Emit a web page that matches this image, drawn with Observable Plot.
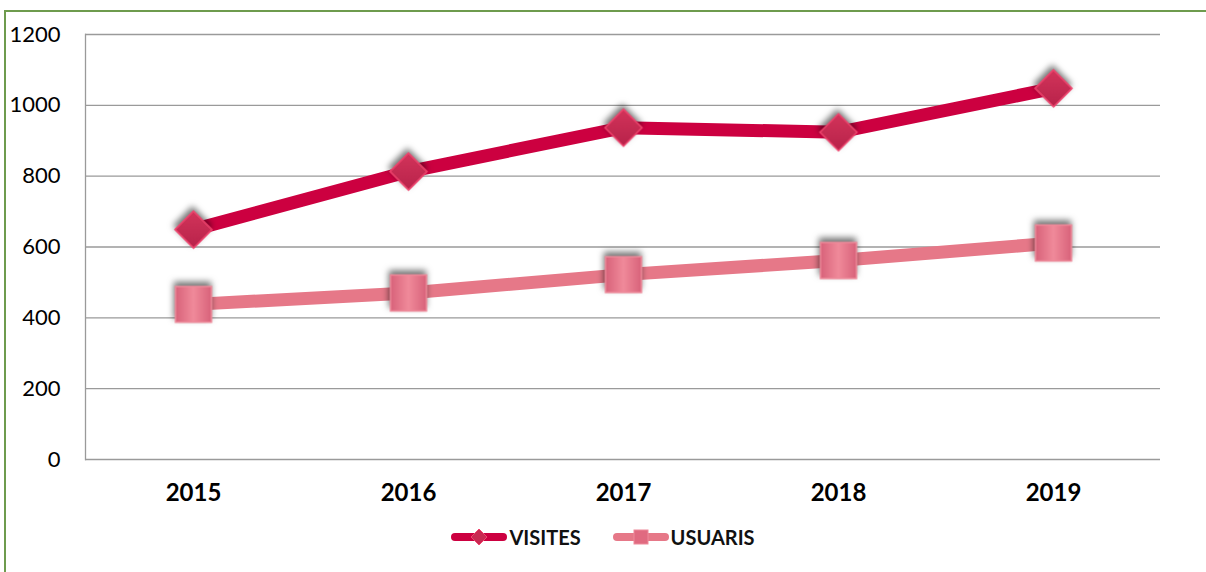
<!DOCTYPE html>
<html>
<head>
<meta charset="utf-8">
<script src="https://cdn.jsdelivr.net/npm/d3@7"></script>
<script src="https://cdn.jsdelivr.net/npm/@observablehq/plot@0.6"></script>
<style>
  html, body { margin: 0; padding: 0; background: #fff; width: 1206px; height: 572px; overflow: hidden; }
  #border { position: absolute; left: 4px; top: 10px; width: 1400px; height: 800px; border-left: 2px solid #6E9B4E; border-top: 2px solid #6E9B4E; }
  #chart { position: absolute; left: 0; top: 0; }
  .shadow { filter: drop-shadow(-1px -4px 3px rgba(0,0,0,0.55)); }
  #legend { position: absolute; left: 0; top: 515px; width: 1206px; height: 44px; display: flex; justify-content: center; align-items: center; font-family: Lato, "Open Sans", sans-serif; font-weight: bold; font-size: 20px; color: #111; }
  .item { display: flex; align-items: center; margin: 0 16px; }
  .item svg { margin-right: 2px; }
</style>
</head>
<body>
<div id="border"></div>
<div id="chart"></div>
<div id="legend"></div>
<script>
const years = ["2015", "2016", "2017", "2018", "2019"];
const visites = [649, 813, 937, 924, 1048];
const usuaris = [438, 470, 522, 562, 611];
const yTicks = [0, 200, 400, 600, 800, 1000, 1200];
const seriesNames = ["VISITES", "USUARIS"];
const seriesColors = ["#CC0040", "#E67888"];

const dataV = years.map((y, i) => ({year: y, value: visites[i]}));
const dataU = years.map((y, i) => ({year: y, value: usuaris[i]}));

const plot = Plot.plot({
  width: 1206,
  height: 515,
  marginLeft: 85,
  marginRight: 46,
  marginTop: 34,
  marginBottom: 56,
  style: {fontFamily: "Lato, 'Open Sans', sans-serif", color: "#000", background: "transparent"},
  x: {type: "point", domain: years, padding: 0.5, label: null},
  y: {domain: [0, 1200], ticks: yTicks, label: null},
  marks: [
    Plot.gridY(yTicks, {stroke: "#9a9a9a", strokeOpacity: 1, strokeWidth: 1.3}),
    Plot.frame({anchor: "left", stroke: "#9a9a9a", strokeWidth: 1.3}),
    Plot.axisY(yTicks, {tickSize: 0, tickPadding: 25, fontSize: 22, tickFormat: d => String(d), label: null}),
    Plot.axisX({tickSize: 0, tickPadding: 24, fontSize: 24, fontWeight: "bold", label: null}),
    Plot.line(dataU, {x: "year", y: "value", stroke: seriesColors[1], strokeWidth: 13}),
    Plot.line(dataV, {x: "year", y: "value", stroke: seriesColors[0], strokeWidth: 13}),
    Plot.dot(dataU, {x: "year", y: "value", symbol: "square", r: 20.3, fill: "url(#gradU)", stroke: "#EE8A9A", strokeWidth: 1.5, className: "shadow"}),
    Plot.dot(dataV, {x: "year", y: "value", symbol: "square", r: 14.8, rotate: 45, fill: "url(#gradV)", stroke: "#F0446E", strokeWidth: 1.5, className: "shadow"})
  ]
});

const defs = d3.select(plot).insert("defs", ":first-child");
const gV = defs.append("linearGradient").attr("id", "gradV").attr("x1", "0").attr("y1", "0").attr("x2", "1").attr("y2", "1");
gV.append("stop").attr("offset", "0%").attr("stop-color", "#D2345A");
gV.append("stop").attr("offset", "100%").attr("stop-color", "#B8224A");
const gU = defs.append("linearGradient").attr("id", "gradU").attr("x1", "0").attr("y1", "0").attr("x2", "1").attr("y2", "0");
gU.append("stop").attr("offset", "0%").attr("stop-color", "#D8627A");
gU.append("stop").attr("offset", "50%").attr("stop-color", "#F08A9A");
gU.append("stop").attr("offset", "100%").attr("stop-color", "#D8627A");

document.getElementById("chart").appendChild(plot);

// Legend
const legend = d3.select("#legend");
seriesNames.forEach((name, i) => {
  const item = legend.append("div").attr("class", "item");
  const s = item.append("svg").attr("width", 56).attr("height", 20);
  s.append("line").attr("x1", 4).attr("x2", 52).attr("y1", 10).attr("y2", 10)
    .attr("stroke", seriesColors[i]).attr("stroke-width", 8).attr("stroke-linecap", "round");
  if (i === 0) {
    s.append("path").attr("d", "M28,2 L36,10 L28,18 L20,10 Z").attr("fill", "#C82A52").attr("stroke", "#F0446E");
  } else {
    s.append("rect").attr("x", 21).attr("y", 3).attr("width", 14).attr("height", 14).attr("fill", "#E06A80").attr("stroke", "#EE8A9A");
  }
  item.append("span").text(name);
});
</script>
</body>
</html>
